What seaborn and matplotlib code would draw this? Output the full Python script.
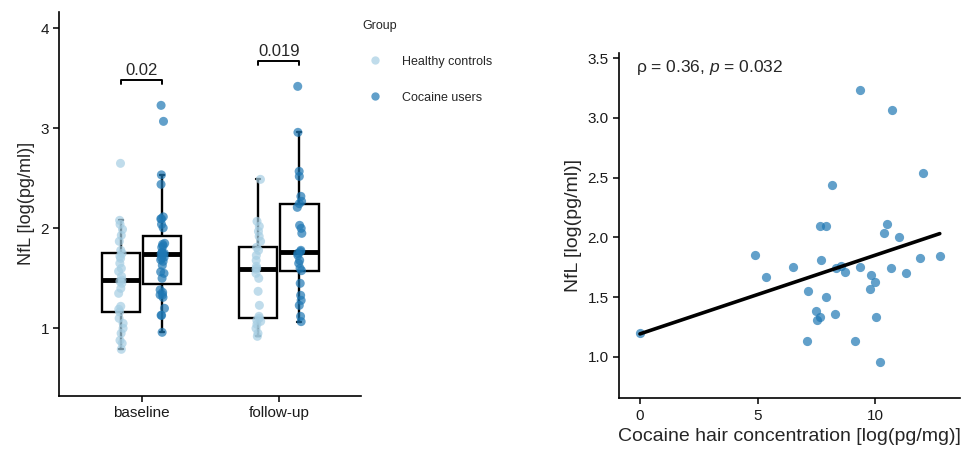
import numpy as np
import pandas as pd
import seaborn as sns
import matplotlib.pyplot as plt
from matplotlib.lines import Line2D

# groups / visits
groups = ["Healthy controls", "Cocaine users"]
visits = ["baseline", "follow-up"]
group_colors = ["#a6cee3", "#1f78b4"]

# NfL [log(pg/ml)] per group and visit
hc_baseline = [0.79, 0.85, 0.88, 0.95, 1.00, 1.05, 1.10, 1.165, 1.19, 1.22,
               1.35, 1.40, 1.45, 1.47, 1.483, 1.52, 1.57, 1.60, 1.65, 1.70,
               1.72, 1.75, 1.78, 1.87, 1.93, 1.99, 2.04, 2.08, 2.65]
hc_followup = [0.92, 0.95, 1.00, 1.04, 1.07, 1.08, 1.10, 1.12, 1.23, 1.37,
               1.50, 1.55, 1.59, 1.60, 1.62, 1.68, 1.73, 1.78, 1.81, 1.87,
               1.92, 1.97, 2.02, 2.07, 2.49]
cu_followup = [1.067, 1.12, 1.23, 1.28, 1.33, 1.45, 1.577, 1.60, 1.65, 1.68,
               1.73, 1.75, 1.767, 1.78, 1.95, 2.00, 2.03, 2.21, 2.247, 2.27,
               2.32, 2.52, 2.57, 2.96, 3.42]

# cocaine users at baseline: hair concentration vs NfL
cocaine_hair = [0.00, 4.89, 5.36, 6.50, 7.12, 7.09, 7.46, 7.52, 7.66, 7.63,
                7.90, 7.69, 7.89, 8.18, 8.31, 8.55, 8.72, 8.30, 9.12, 9.36,
                9.35, 9.82, 9.79, 9.99, 10.03, 10.21, 10.35, 10.51, 10.70, 10.65,
                11.01, 11.29, 11.91, 12.03, 12.74]
cocaine_nfl = [1.20, 1.85, 1.67, 1.75, 1.55, 1.13, 1.385, 1.31, 1.335, 2.095,
               2.095, 1.81, 1.50, 2.44, 1.74, 1.76, 1.71, 1.36, 1.13, 3.23,
               1.755, 1.685, 1.565, 1.63, 1.335, 0.96, 2.04, 2.115, 3.07, 1.74,
               2.005, 1.705, 1.825, 2.535, 1.84]
cu_baseline = cocaine_nfl

p_values = ["0.02", "0.019"]
corr_label = r"ρ = 0.36, $\it{p}$ = 0.032"

# long table
rows = []
for vals, g, v in [(hc_baseline, groups[0], visits[0]), (cu_baseline, groups[1], visits[0]),
                   (hc_followup, groups[0], visits[1]), (cu_followup, groups[1], visits[1])]:
    for x in vals:
        rows.append({"group": g, "visit": v, "nfl": x})
df = pd.DataFrame(rows)
hair_df = pd.DataFrame({"hair": cocaine_hair, "nfl": cocaine_nfl})

sns.set_style("white")
plt.rcParams["font.family"] = ["Liberation Sans", "DejaVu Sans"]
plt.rcParams["mathtext.fontset"] = "custom"
plt.rcParams["mathtext.rm"] = "Liberation Sans"
plt.rcParams["mathtext.it"] = "Liberation Sans:italic"

np.random.seed(3)

fig = plt.figure(figsize=(9.76, 4.53), dpi=100)
ax1 = fig.add_axes([0.0608, 0.1258, 0.3092, 0.8482])
ax2 = fig.add_axes([0.6345, 0.1207, 0.3491, 0.7623])

palette = dict(zip(groups, group_colors))

# --- left: boxplots + points
sns.boxplot(data=df, x="visit", y="nfl", hue="group", order=visits, hue_order=groups,
            palette={g: "white" for g in groups}, width=0.6, gap=0.07,
            showfliers=False, linecolor="black", linewidth=1.7,
            medianprops={"linewidth": 3.5}, capwidths=0.03, legend=False, ax=ax1)
sns.stripplot(data=df, x="visit", y="nfl", hue="group", order=visits, hue_order=groups,
              palette=palette, dodge=True, jitter=0.05, size=6.5, alpha=0.7,
              linewidth=0, legend=False, ax=ax1, zorder=3)

# pull the dodged points onto the box centres (boxes sit at +/-0.15)
for coll in ax1.collections:
    offs = coll.get_offsets()
    if len(offs) == 0:
        continue
    centre = np.round(offs[:, 0])
    offs[:, 0] = centre + (offs[:, 0] - centre) * 0.75
    coll.set_offsets(offs)

# significance brackets
for i, v in enumerate(visits):
    top = df.loc[df["visit"] == v, "nfl"].max() + 0.25
    ax1.plot([i - 0.15, i - 0.15, i + 0.15, i + 0.15],
             [top - 0.04, top, top, top - 0.04], color="black", lw=1.4)
    ax1.text(i, top + 0.02, p_values[i], ha="center", va="bottom", fontsize=12)

ax1.set_xlim(-0.6, 1.6)
ax1.set_ylim(0.323, 4.166)
ax1.set_yticks([1, 2, 3, 4])
ax1.set_xlabel("")
ax1.set_ylabel("NfL [log(pg/ml)]", fontsize=13)

# legend
handles = [Line2D([], [], marker="o", ls="", color=c, alpha=0.7, markersize=6,
                  markeredgewidth=0) for c in group_colors]
fig.legend(handles, groups, title="Group", loc="upper left",
           bbox_to_anchor=(0.362, 0.975), frameon=False, fontsize=9,
           title_fontsize=9, labelspacing=1.9, handletextpad=1.2,
           borderpad=0.2, alignment="left")

# --- right: hair concentration vs NfL
sns.regplot(data=hair_df, x="hair", y="nfl", ci=None, ax=ax2,
            scatter_kws={"s": 44, "color": group_colors[1], "alpha": 0.7, "linewidths": 0},
            line_kws={"color": "black", "linewidth": 2.6})
ax2.set_xlim(-0.88, 13.6)
ax2.set_ylim(0.652, 3.544)
ax2.set_xticks([0, 5, 10])
ax2.set_yticks([1.0, 1.5, 2.0, 2.5, 3.0, 3.5])
ax2.set_yticklabels([f"{t:.1f}" for t in [1.0, 1.5, 2.0, 2.5, 3.0, 3.5]])
ax2.set_xlabel("Cocaine hair concentration [log(pg/mg)]", fontsize=14)
ax2.set_ylabel("NfL [log(pg/ml)]", fontsize=14)
ax2.text(0.05, 0.985, corr_label, transform=ax2.transAxes, ha="left", va="top",
         fontsize=12.5)

for ax in (ax1, ax2):
    sns.despine(ax=ax)
    for s in ("left", "bottom"):
        ax.spines[s].set_color("black")
        ax.spines[s].set_linewidth(1.2)
    ax.tick_params(axis="both", direction="out", length=4, width=1.1, color="black",
                   labelsize=11, labelcolor="#1a1a1a", bottom=True, left=True)

fig.savefig("out.png", dpi=100)
